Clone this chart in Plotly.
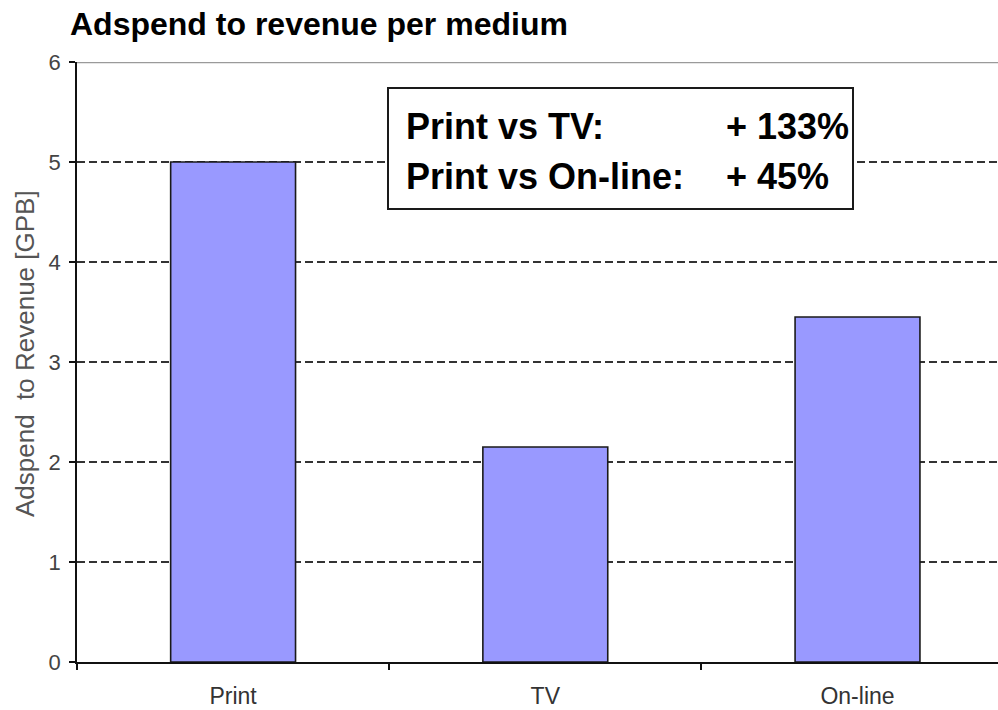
import plotly.graph_objects as go

categories = ["Print", "TV", "On-line"]
values = [5.0, 2.15, 3.45]
y_ticks = [0, 1, 2, 3, 4, 5, 6]
box_labels = ["Print vs TV:", "Print vs On-line:"]
box_values = ["+ 133%", "+ 45%"]
box_y = [5.36, 4.86]

W, H = 998, 710
L, R, T = 77, 0, 62
B = H - T - 600
pw = W - L - R

def px_to_paper(x):
    return (x - L) / pw

fig = go.Figure()
fig.add_trace(go.Bar(
    x=categories, y=values, width=0.4,
    marker=dict(color="#9999FF", line=dict(color="#1a1a1a", width=1.6)),
    hoverinfo="x+y",
))

fig.update_layout(
    width=W, height=H,
    margin=dict(l=L, r=R, t=T, b=B),
    paper_bgcolor="white", plot_bgcolor="white",
    showlegend=False,
    font=dict(family="Liberation Sans, Arial, sans-serif", color="#333333"),
    title=dict(
        text="<b>Adspend to revenue per medium</b>",
        x=70 / W, xanchor="left", xref="container",
        y=1 - 24 / H, yanchor="middle", yref="container",
        font=dict(size=32, color="black", family="Liberation Sans, Arial, sans-serif"),
    ),
)

fig.update_xaxes(
    range=[-0.5, 2.45],
    tickson="boundaries",
    ticks="outside", ticklen=6, tickwidth=1.5, tickcolor="#111",
    showline=True, linecolor="#111", linewidth=1.8,
    showgrid=False, zeroline=False,
    tickfont=dict(size=23, color="#333333"),
    ticklabelstandoff=12,
)
fig.update_yaxes(
    range=[0, 6], tickvals=y_ticks,
    ticks="outside", ticklen=6, tickwidth=1.5, tickcolor="#111",
    showline=True, linecolor="#111", linewidth=1.8,
    showgrid=True, gridcolor="#333333", gridwidth=1.6, griddash="8px,4px",
    zeroline=False,
    tickfont=dict(size=22, color="#444444"),
    ticklabelstandoff=4,
)

# gray top border
fig.add_shape(type="line", xref="paper", yref="y", x0=0, x1=1, y0=6, y1=6,
              line=dict(color="#9a9a9a", width=2.5), layer="above")

# annotation box
fig.add_shape(type="rect", xref="paper", yref="y",
              x0=px_to_paper(388), x1=px_to_paper(853), y0=4.53, y1=5.74,
              line=dict(color="#1a1a1a", width=2), fillcolor="white", layer="above")

for lab, val, yy in zip(box_labels, box_values, box_y):
    fig.add_annotation(x=px_to_paper(404), y=yy, xref="paper", yref="y",
                       text=f"<b>{lab}</b>", showarrow=False, xanchor="left", yanchor="middle",
                       font=dict(size=36, color="black"))
    fig.add_annotation(x=px_to_paper(724), y=yy, xref="paper", yref="y",
                       text=f"<b>{val}</b>", showarrow=False, xanchor="left", yanchor="middle",
                       font=dict(size=36, color="black"))

# y axis title
fig.add_annotation(x=px_to_paper(25), y=3.08, xref="paper", yref="y",
                   text="Adspend  to Revenue [GPB]", textangle=-90, showarrow=False,
                   xanchor="center", yanchor="middle",
                   font=dict(size=26, color="#555555"))

fig.write_html("out.html", config={"displayModeBar": False},
               post_script="document.body.style.margin='0';")
